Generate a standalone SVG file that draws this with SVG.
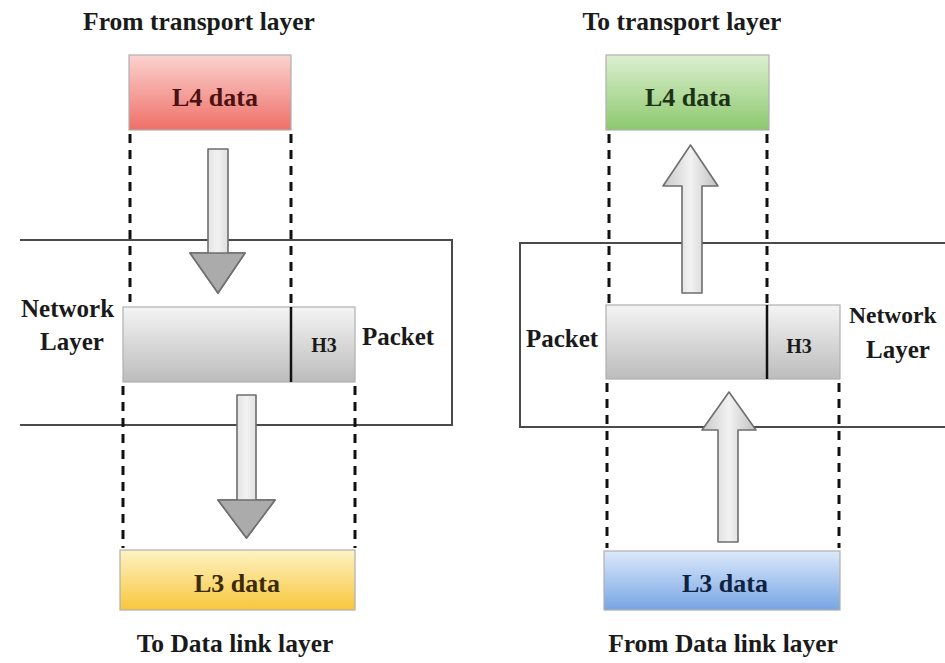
<svg xmlns="http://www.w3.org/2000/svg" width="945" height="663" viewBox="0 0 945 663">
<defs>
<linearGradient id="gRed" x1="0" y1="0" x2="0" y2="1"><stop offset="0" stop-color="#fbd3cf"/><stop offset="1" stop-color="#ef6f68"/></linearGradient>
<linearGradient id="gGreen" x1="0" y1="0" x2="0" y2="1"><stop offset="0" stop-color="#dcefd0"/><stop offset="1" stop-color="#8cc96e"/></linearGradient>
<linearGradient id="gYellow" x1="0" y1="0" x2="0" y2="1"><stop offset="0" stop-color="#fff3c4"/><stop offset="1" stop-color="#f7c63c"/></linearGradient>
<linearGradient id="gBlue" x1="0" y1="0" x2="0" y2="1"><stop offset="0" stop-color="#dce9fb"/><stop offset="1" stop-color="#77a5e4"/></linearGradient>
<linearGradient id="gGray" x1="0" y1="0" x2="0" y2="1"><stop offset="0" stop-color="#f4f4f4"/><stop offset="1" stop-color="#bcbcbc"/></linearGradient>
<linearGradient id="gArrow" x1="0" y1="0" x2="1" y2="0"><stop offset="0" stop-color="#c8c8c8"/><stop offset="0.5" stop-color="#f2f2f2"/><stop offset="1" stop-color="#c0c0c0"/></linearGradient>
</defs>
<style>
text{font-family:"Liberation Serif","DejaVu Serif",serif;font-weight:bold;fill:#1a1a1a}
.title{font-size:25.5px;text-anchor:middle}
.lbl{font-size:26px;text-anchor:middle}
.side{font-size:25px}
.h3{font-size:20px;text-anchor:middle}
.box{stroke:#b0b0b0;stroke-width:1.2}
.dash{stroke:#111;stroke-width:3;stroke-dasharray:9 7;fill:none}
.frame{stroke:#4a4a4a;stroke-width:2;fill:none}
.arrow{fill:url(#gArrow);stroke:#6e6e6e;stroke-width:1.6;stroke-linejoin:round}
.head{fill:#ababab;stroke:#6e6e6e;stroke-width:1.6;stroke-linejoin:round}
.div{stroke:#111;stroke-width:2.5}
</style>

<g id="left-frame"><path class="frame" d="M20,240 H452 V425 H20"/></g>
<g id="right-frame"><path class="frame" d="M945,243 H520 V427 H945"/></g>

<g id="titles">
<text class="title" x="199" y="30">From transport layer</text>
<text class="title" x="682" y="30">To transport layer</text>
<text class="title" x="235" y="652">To Data link layer</text>
<text class="title" x="723" y="652">From Data link layer</text>
</g>

<g id="l4-left">
<rect class="box" x="129" y="55" width="162" height="75" fill="url(#gRed)"/>
<text class="lbl" x="215" y="106" style="fill:#4a1212">L4 data</text>
</g>
<g id="l4-right">
<rect class="box" x="606" y="55" width="163" height="75" fill="url(#gGreen)"/>
<text class="lbl" x="688" y="106" style="fill:#1b3314">L4 data</text>
</g>

<g id="packet-left">
<rect class="box" x="123" y="307" width="232" height="75" fill="url(#gGray)" stroke="#888"/>
<line class="div" x1="291" y1="307" x2="291" y2="382"/>
<text class="h3" x="324" y="352">H3</text>
</g>
<g id="packet-right">
<rect class="box" x="606" y="305" width="234" height="74" fill="url(#gGray)" stroke="#888"/>
<line class="div" x1="767" y1="305" x2="767" y2="379"/>
<text class="h3" x="799" y="353">H3</text>
</g>

<g id="labels-left">
<text class="side" x="21" y="317">Network</text>
<text class="side" x="40" y="350">Layer</text>
<text class="side" x="362" y="345">Packet</text>
</g>
<g id="labels-right">
<text class="side" x="526" y="347">Packet</text>
<text class="side" x="849" y="323" style="font-size:23.5px">Network</text>
<text class="side" x="866" y="358">Layer</text>
</g>

<g id="l3-left">
<rect class="box" x="120" y="550" width="235" height="60" fill="url(#gYellow)"/>
<text class="lbl" x="237" y="592" style="fill:#3a2a08">L3 data</text>
</g>
<g id="l3-right">
<rect class="box" x="604" y="551" width="236" height="59" fill="url(#gBlue)"/>
<text class="lbl" x="725" y="592" style="fill:#0f2240">L3 data</text>
</g>

<g id="connectors">
<line class="dash" x1="130" y1="134" x2="130" y2="302"/>
<line class="dash" x1="291" y1="134" x2="291" y2="306"/>
<line class="dash" x1="123" y1="386" x2="123" y2="548"/>
<line class="dash" x1="355" y1="386" x2="355" y2="548"/>
<line class="dash" x1="609" y1="134" x2="609" y2="303"/>
<line class="dash" x1="767" y1="134" x2="767" y2="304"/>
<line class="dash" x1="607" y1="383" x2="607" y2="548"/>
<line class="dash" x1="839" y1="383" x2="839" y2="548"/>
<path class="arrow" d="M208,149 H228 V253 H245 L218,293 L190,253 H208 Z"/>
<path class="head" d="M190,253 H245 L218,293 Z"/>
<path class="arrow" d="M237,395 H256 V500 H275 L246.5,538 L218,500 H237 Z"/>
<path class="head" d="M218,500 H275 L246.5,538 Z"/>
<path class="arrow" d="M682,293 H702 V186 H718 L690.5,145 L663,186 H682 Z"/>
<path class="arrow" d="M718,542 H738 V430 H756 L729,392 L702,430 H718 Z"/>
</g>
</svg>
